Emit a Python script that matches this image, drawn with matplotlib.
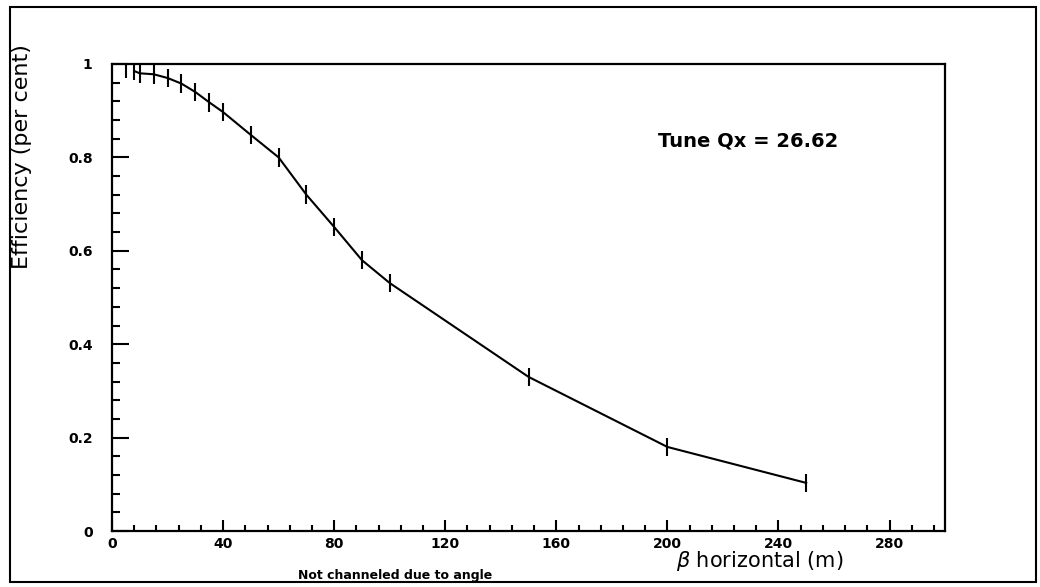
import matplotlib.pyplot as plt
from matplotlib.patches import Rectangle
from matplotlib.ticker import MultipleLocator

# beta horizontal (m) and channelling efficiency
beta = [5, 8, 10, 15, 20, 25, 30, 35, 40, 50, 60, 70, 80, 90, 100, 150, 200, 250]
eff = [0.99, 0.985, 0.98, 0.978, 0.97, 0.958, 0.94, 0.918, 0.897, 0.848,
       0.80, 0.72, 0.651, 0.58, 0.531, 0.33, 0.18, 0.103]
err = [0.02] * len(beta)

xticks = [0, 40, 80, 120, 160, 200, 240, 280]
yticks = [0, 0.2, 0.4, 0.6, 0.8, 1]
ytick_labels = ["0", "0.2", "0.4", "0.6", "0.8", "1"]

fig = plt.figure(figsize=(10.4, 5.87), dpi=100)
ax = fig.add_axes([0.1077, 0.0954, 0.801, 0.7956])

# curve through the measured points (first two are only error bars)
ax.plot(beta[1:], eff[1:], color="black", lw=1.5)
ax.errorbar(beta, eff, yerr=err, fmt="none", ecolor="black", elinewidth=1.5, capsize=0)

ax.set_xlim(0, 300)
ax.set_ylim(0, 1)
ax.set_xticks(xticks)
ax.set_yticks(yticks)
ax.set_yticklabels(ytick_labels)
ax.xaxis.set_minor_locator(MultipleLocator(8))
ax.yaxis.set_minor_locator(MultipleLocator(0.04))

ax.tick_params(which="both", direction="in", top=False, right=False, width=1.5)
ax.tick_params(axis="y", which="major", length=12, pad=14)
ax.tick_params(axis="y", which="minor", length=6)
ax.tick_params(axis="x", which="major", length=8, pad=4)
ax.tick_params(axis="x", which="minor", length=4)
for lab in ax.get_xticklabels() + ax.get_yticklabels():
    lab.set_fontweight("bold")
    lab.set_fontsize(10)
for s in ax.spines.values():
    s.set_linewidth(1.6)

ax.text(0.655, 0.835, "Tune Qx = 26.62", transform=ax.transAxes, fontsize=14,
        ha="left", va="center", fontweight="semibold")

fig.text(22 / 1040, 1 - 157 / 587, "Efficiency (per cent)", rotation=90,
         ha="center", va="center", fontsize=16)
fig.text(760 / 1040, 1 - 561 / 587, r"$\beta$ horizontal (m)", ha="center",
         va="center", fontsize=15)
fig.text(395 / 1040, 1 - 575 / 587, "Not channeled due to angle", ha="center",
         va="center", fontsize=9, fontweight="bold")

# frame round the whole figure
fig.patches.append(Rectangle((10 / 1040, 5 / 587), 1026 / 1040, 575 / 587,
                             transform=fig.transFigure, fill=False,
                             edgecolor="black", lw=1.5))

fig.savefig("out.png", dpi=100)
